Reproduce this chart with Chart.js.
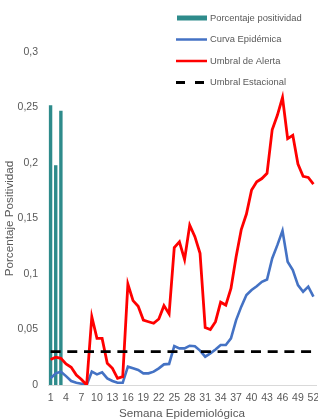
<!DOCTYPE html>
<html><head><meta charset="utf-8">
<script src="https://cdn.jsdelivr.net/npm/chart.js@4.4.1/dist/chart.umd.min.js"></script>
<style>html,body{margin:0;padding:0;background:#fff;overflow:hidden}#wrap{width:318px;height:419px;position:relative}</style>
</head><body><div id="wrap"><canvas id="c" width="318" height="419"></canvas></div>
<script>
const weeks = ['1','2','3','4','5','6','7','8','9','10','11','12','13','14','15','16','17','18','19','20','21','22','23','24','25','26','27','28','29','30','31','32','33','34','35','36','37','38','39','40','41','42','43','44','45','46','47','48','49','50','51','52'];

const positividad = [0.252, 0.198, 0.247, null, null, null, null, null, null, null, null, null, null, null, null, null, null, null, null, null, null, null, null, null, null, null, null, null, null, null, null, null, null, null, null, null, null, null, null, null, null, null, null, null, null, null, null, null, null, null, null, null];

const curvaEpidemica = [0.006, 0.0105, 0.012, 0.008, 0.0036, 0.002, 0.0012, 0.0, 0.012, 0.0096, 0.0114, 0.006, 0.0036, 0.002, 0.002, 0.0165, 0.015, 0.0135, 0.0105, 0.0105, 0.012, 0.015, 0.0186, 0.019, 0.035, 0.033, 0.033, 0.0354, 0.035, 0.031, 0.0255, 0.0285, 0.032, 0.036, 0.036, 0.042, 0.0585, 0.0706, 0.081, 0.0856, 0.089, 0.093, 0.095, 0.114, 0.126, 0.139, 0.111, 0.1036, 0.090, 0.084, 0.0886, 0.0796];

const umbralAlerta = [0.023, 0.025, 0.024, 0.019, 0.016, 0.009, 0.005, 0.0, 0.0615, 0.042, 0.042, 0.0195, 0.015, 0.006, 0.0075, 0.091, 0.076, 0.071, 0.0585, 0.057, 0.0556, 0.0595, 0.0715, 0.064, 0.1237, 0.129, 0.113, 0.144, 0.1336, 0.1186, 0.0517, 0.050, 0.057, 0.0746, 0.072, 0.087, 0.1156, 0.14, 0.154, 0.1757, 0.183, 0.186, 0.1907, 0.230, 0.243, 0.259, 0.222, 0.225, 0.199, 0.188, 0.187, 0.181];

const umbralEstacional = [0.03, 0.03, 0.03, 0.03, 0.03, 0.03, 0.03, 0.03, 0.03, 0.03, 0.03, 0.03, 0.03, 0.03, 0.03, 0.03, 0.03, 0.03, 0.03, 0.03, 0.03, 0.03, 0.03, 0.03, 0.03, 0.03, 0.03, 0.03, 0.03, 0.03, 0.03, 0.03, 0.03, 0.03, 0.03, 0.03, 0.03, 0.03, 0.03, 0.03, 0.03, 0.03, 0.03, 0.03, 0.03, 0.03, 0.03, 0.03, 0.03, 0.03, 0.03, 0.03];

const FONT = '"Liberation Sans", Arial, sans-serif';
const GREY = '#595959';

const legendPlugin = {
  id: 'customLegend',
  afterDraw(chart) {
    const ctx = chart.ctx;
    const x0 = 176, x1 = 207, tx = 210;
    const ys = [18, 39.5, 61, 82.5];
    ctx.save();
    ctx.font = '9.4px ' + FONT;
    ctx.textBaseline = 'middle';
    ctx.textAlign = 'left';
    chart.data.datasets.forEach((ds, i) => {
      const y = ys[i];
      if (ds.type === 'bar') {
        ctx.fillStyle = ds.backgroundColor;
        ctx.fillRect(x0 + 1, y - 2.5, x1 - x0 - 1, 5);
      } else {
        ctx.beginPath();
        ctx.setLineDash(ds.borderDash ? [9, 10] : []);
        ctx.strokeStyle = ds.borderColor;
        ctx.lineWidth = ds.borderDash ? 3 : 2.5;
        ctx.moveTo(x0, y);
        ctx.lineTo(ds.borderDash ? 204 : x1, y);
        ctx.stroke();
        ctx.setLineDash([]);
      }
      ctx.fillStyle = GREY;
      ctx.fillText(ds.label, tx, y);
    });
    ctx.restore();
  }
};

new Chart(document.getElementById('c'), {
  type: 'bar',
  data: {
    labels: weeks,
    datasets: [
      { type: 'bar', label: 'Porcentaje positividad', data: positividad, backgroundColor: '#2E8B8B', barPercentage: 0.66, categoryPercentage: 1, order: 4 },
      { type: 'line', label: 'Curva Epidémica', data: curvaEpidemica, borderColor: '#4472C4', borderWidth: 2.6, pointRadius: 0, tension: 0, order: 3 },
      { type: 'line', label: 'Umbral de Alerta', data: umbralAlerta, borderColor: '#FF0000', borderWidth: 2.8, pointRadius: 0, tension: 0, order: 2 },
      { type: 'line', label: 'Umbral Estacional', data: umbralEstacional, borderColor: '#000000', borderWidth: 2.8, borderDash: [10, 6.7], pointRadius: 0, tension: 0, order: 1 }
    ]
  },
  options: {
    responsive: false,
    animation: false,
    devicePixelRatio: 1,
    layout: { padding: { top: 52, right: 2, bottom: 0, left: 0 } },
    plugins: { legend: { display: false }, tooltip: { enabled: false } },
    scales: {
      x: {
        offset: true,
        grid: { display: false, drawTicks: false },
        border: { display: true, color: '#D9D9D9', width: 1 },
        ticks: {
          autoSkip: false, maxRotation: 0, minRotation: 0, padding: 6.5, color: GREY,
          font: { family: FONT, size: 10.5 },
          callback: function (v, i) { return i % 3 === 0 ? this.getLabelForValue(v) : ''; }
        },
        title: { display: true, text: 'Semana Epidemiológica', color: GREY, font: { family: FONT, size: 11.7 }, padding: { top: 0, bottom: -2 } },
        afterFit(s) { s.height = 34; s.paddingLeft = 0; s.paddingRight = 0; }
      },
      y: {
        min: 0, max: 0.3,
        grid: { display: false, drawTicks: false },
        border: { display: false },
        ticks: {
          stepSize: 0.05, padding: 10, color: GREY,
          font: { family: FONT, size: 10.5 },
          callback: v => String(Math.round(v * 100) / 100).replace('.', ',')
        },
        title: { display: true, text: 'Porcentaje Positividad', color: GREY, font: { family: FONT, size: 11.7 }, padding: { top: 3, bottom: 0 } },
        afterFit(s) { s.width = 48; s.paddingTop = 0; s.paddingBottom = 0; }
      }
    }
  },
  plugins: [legendPlugin]
});
</script>
</body></html>
